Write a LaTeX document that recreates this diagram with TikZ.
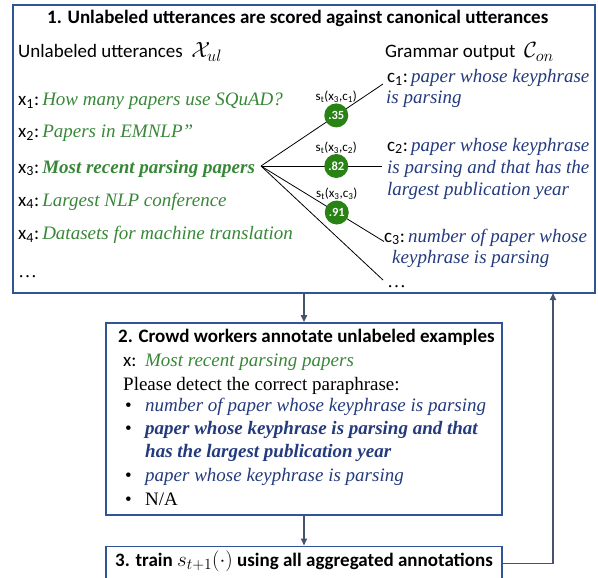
\documentclass[tikz,border=0pt]{standalone}
\usepackage{fix-cm}
\usepackage{fontspec}
\setmainfont{Liberation Serif}
\newfontfamily\cali{Carlito}
\DeclareMathSizes{19}{19}{14}{11}
\DeclareMathSizes{21}{21}{15.5}{11.5}
\DeclareMathSizes{22}{22}{16.5}{12}
\usetikzlibrary{arrows.meta,calc}
\definecolor{boxblue}{RGB}{47,85,151}
\definecolor{arrgray}{RGB}{68,84,106}
\definecolor{tgreen}{RGB}{56,135,56}
\definecolor{tblue}{RGB}{35,58,125}
\definecolor{cgreen}{RGB}{40,130,20}
\newcommand{\bigmath}[2][22]{{\fontsize{#1}{#1}\selectfont$#2$}}
\begin{document}
\begin{tikzpicture}[x=1pt,y=-1pt,
  box/.style={draw=boxblue, line width=1.6pt, inner sep=0pt},
  arr/.style={draw=arrgray, line width=1.6pt, -{Triangle[length=7pt,width=6pt]}},
  txt/.style={inner sep=0pt, anchor=base west},
  sans/.style={txt, font=\cali\fontsize{19}{22}\selectfont},
  bsans/.style={txt, font=\cali\bfseries\fontsize{19}{22}\selectfont},
  serif/.style={txt, font=\fontsize{19}{22}\selectfont},
  fan/.style={draw=black, line width=0.8pt},
  score/.style={circle, fill=cgreen, inner sep=0pt, minimum size=24pt, text=white, font=\cali\bfseries\fontsize{12.5}{13}\selectfont},
  slab/.style={inner sep=0pt, font=\cali\fontsize{13}{14}\selectfont}]
\useasboundingbox (0,0) rectangle (598,578);

% boxes
\node[box, minimum width=582pt, minimum height=288pt] (b1) at (304,149) {};
\node[box, minimum width=396pt, minimum height=192pt] (b2) at (304,419) {};
\node[box, minimum width=396pt, minimum height=34pt] (b3) at (304,563.3) {};

% box 1
\node[bsans] (t1) at (47,24) {1. Unlabeled utterances are scored against canonical utterances};
\node[sans] (hu) at (18,57.5) {Unlabeled utterances\ \ \bigmath{\mathcal{X}_{ul}}};
\node[sans] (hc) at (385,58) {Grammar output\ \ \bigmath{\mathcal{C}_{on}}};

\node[sans] (x1) at (18,106) {x\textsubscript{1}:\,\textcolor{tgreen}{\rmfamily\itshape How many papers use SQuAD?}};
\node[sans] (x2) at (18,138) {x\textsubscript{2}:\,\textcolor{tgreen}{\rmfamily\itshape Papers in EMNLP''}};
\node[sans] (x3) at (18,173) {x\textsubscript{3}:\,\textcolor{tgreen}{\rmfamily\bfseries\itshape Most recent parsing papers}};
\node[sans] (x4) at (18,206) {x\textsubscript{4}:\,\textcolor{tgreen}{\rmfamily\itshape Largest NLP conference}};
\node[sans] (x5) at (18,240) {x\textsubscript{4}:\,\textcolor{tgreen}{\rmfamily\itshape Datasets for machine translation}};
\node[serif] (xd) at (18,277) {\dots};

\node[sans] (c1) at (387,83) {c\textsubscript{1}:\,\textcolor{tblue}{\rmfamily\itshape paper whose keyphrase}};
\node[serif, text=tblue, font=\itshape\fontsize{19}{22}\selectfont] (c1b) at (386,103) {is parsing};
\node[sans] (c2) at (387,151) {c\textsubscript{2}:\,\textcolor{tblue}{\rmfamily\itshape paper whose keyphrase}};
\node[serif, text=tblue, font=\itshape\fontsize{19}{22}\selectfont] (c2b) at (387,173) {is parsing and that has the};
\node[serif, text=tblue, font=\itshape\fontsize{19}{22}\selectfont] (c2c) at (387,195) {largest publication year};
\node[sans] (c3) at (384,242) {c\textsubscript{3}:\,\textcolor{tblue}{\rmfamily\itshape number of paper whose}};
\node[serif, text=tblue, font=\itshape\fontsize{19}{22}\selectfont] (c3b) at (392,263) {keyphrase is parsing};
\node[serif] (cd) at (387,287) {\dots};

% fan
\coordinate (fo) at (261,166);
\coordinate (e1) at (383,84);
\coordinate (e2) at (382,166);
\coordinate (e3) at (384,241.5);
\coordinate (e4) at (383,280);
\draw[fan] (fo) -- (e1);
\draw[fan] (fo) -- (e2);
\draw[fan] (fo) -- (e3);
\draw[fan] (fo) -- (e4);
\node[score] (s1) at ($(fo)!0.617!(e1)$) {.35};
\node[score] (s2) at ($(fo)!0.622!(e2)$) {.82};
\node[score] (s3) at ($(fo)!0.616!(e3)$) {.91};
\node[slab] (l1) at ($(s1)+(0,-18.5)$) {s\textsubscript{t}(x\textsubscript{3},c\textsubscript{1})};
\node[slab] (l2) at ($(s2)+(0,-18.5)$) {s\textsubscript{t}(x\textsubscript{3},c\textsubscript{2})};
\node[slab] (l3) at ($(s3)+(0,-18.5)$) {s\textsubscript{t}(x\textsubscript{3},c\textsubscript{3})};

% box 2
\node[bsans] (t2) at (118,342.7) {2. Crowd workers annotate unlabeled examples};
\node[sans] (ux) at (123,366.7) {x:\ \ \textcolor{tgreen}{\rmfamily\itshape Most recent parsing papers}};
\node[serif] (pl) at (123,390) {Please detect the correct paraphrase:};
\node[serif] (u1) at (125,411.5) {•};
\node[serif, text=tblue, font=\itshape\fontsize{19}{22}\selectfont] (o1) at (145,411.5) {number of paper whose keyphrase is parsing};
\node[serif] (u2) at (125,434.5) {•};
\node[serif, text=tblue, font=\bfseries\itshape\fontsize{19}{22}\selectfont] (o2) at (145,434.5) {paper whose keyphrase is parsing and that};
\node[serif, text=tblue, font=\bfseries\itshape\fontsize{19}{22}\selectfont] (o2b) at (145,457) {has the largest publication year};
\node[serif] (u3) at (125,481.5) {•};
\node[serif, text=tblue, font=\itshape\fontsize{19}{22}\selectfont] (o3) at (145,481.5) {paper whose keyphrase is parsing};
\node[serif] (u4) at (125,505) {•};
\node[serif] (o4) at (145,505) {N/A};

% box 3
\node[bsans] (t3) at (115,566.7) {3. train \bigmath[21]{s_{t+1}(\cdot)} using all aggregated annotations};

% arrows
\coordinate (fb) at (553,293);
\draw[arr] (b1.south) -- (b2.north);
\draw[arr] (b2.south) -- (b3.north);
\draw[arr] (b3.east) -| (fb);
\end{tikzpicture}
\end{document}
